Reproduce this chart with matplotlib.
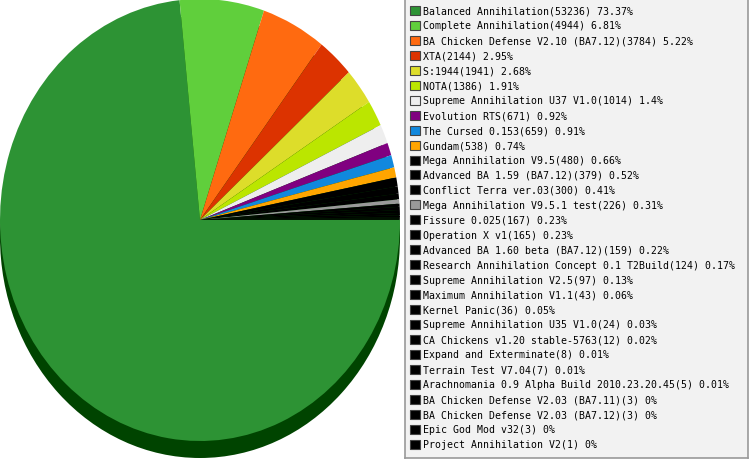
import matplotlib
matplotlib.use("Agg")
import matplotlib.pyplot as plt
from matplotlib.patches import Ellipse, Rectangle

# ── Data ───────────────────────────────────────────────
games = [
    "Balanced Annihilation", "Complete Annihilation", "BA Chicken Defense V2.10 (BA7.12)",
    "XTA", "S:1944", "NOTA", "Supreme Annihilation U37 V1.0", "Evolution RTS",
    "The Cursed 0.153", "Gundam", "Mega Annihilation V9.5", "Advanced BA 1.59 (BA7.12)",
    "Conflict Terra ver.03", "Mega Annihilation V9.5.1 test", "Fissure 0.025",
    "Operation X v1", "Advanced BA 1.60 beta (BA7.12)",
    "Research Annihilation Concept 0.1 T2Build", "Supreme Annihilation V2.5",
    "Maximum Annihilation V1.1", "Kernel Panic", "Supreme Annihilation U35 V1.0",
    "CA Chickens v1.20 stable-5763", "Expand and Exterminate", "Terrain Test V7.04",
    "Arachnomania 0.9 Alpha Build 2010.23.20.45", "BA Chicken Defense V2.03 (BA7.11)",
    "BA Chicken Defense V2.03 (BA7.12)", "Epic God Mod v32", "Project Annihilation V2",
]
counts = [53236, 4944, 3784, 2144, 1941, 1386, 1014, 671, 659, 538, 480, 379, 300,
          226, 167, 165, 159, 124, 97, 43, 36, 24, 12, 8, 7, 5, 3, 3, 3, 1]
percents = ["73.37", "6.81", "5.22", "2.95", "2.68", "1.91", "1.4", "0.92", "0.91",
            "0.74", "0.66", "0.52", "0.41", "0.31", "0.23", "0.23", "0.22", "0.17",
            "0.13", "0.06", "0.05", "0.03", "0.02", "0.01", "0.01", "0.01", "0", "0",
            "0", "0"]
colors = ["#2d9334", "#60cf3c", "#ff6a10", "#dc3300", "#dddd2a", "#bbe600", "#eeeeee",
          "#800080", "#1188dd", "#ffa500", "#000000", "#000000", "#000000", "#999999"] \
         + ["#000000"] * 16
# ───────────────────────────────────────────────────────

W, H = 749, 460
RY = 221  # vertical radius in px (horizontal is 200)

fig = plt.figure(figsize=(W / 100, H / 100), dpi=100)

# pie axes: 400px wide, full height; the pie is drawn as an ellipse
ax = fig.add_axes([0, 0, 400 / W, 1])
shift = 17 / RY
ax.add_patch(Ellipse((0, -shift), 2, 2, facecolor="#004400", edgecolor="none", zorder=0))
ax.pie(counts, colors=colors, startangle=0, counterclock=False, radius=1,
       wedgeprops=dict(linewidth=0, antialiased=True))
ax.set_aspect("auto")
ax.set_xlim(-1, 1)
ax.set_ylim(1 - H / RY, 1)
ax.axis("off")

# legend box
lx0, lx1 = 405, 748
lax = fig.add_axes([lx0 / W, 1 / H, (lx1 - lx0) / W, 1 - 1 / H])
lax.set_xlim(lx0, lx1)
lax.set_ylim(H - 1, 0)
lax.set_xticks([])
lax.set_yticks([])
lax.set_facecolor("#f2f2f2")
for s in lax.spines.values():
    s.set_color("#999999")
    s.set_linewidth(1.2)

for i, (g, c, p, col) in enumerate(zip(games, counts, percents, colors)):
    yc = 11.5 + 14.95 * i
    lax.add_patch(Rectangle((410, yc - 4.5), 10, 9, facecolor=col,
                            edgecolor="#444444", linewidth=0.8))
    lax.text(422.5, yc, f"{g}({c}) {p}%", fontsize=7.15, family="DejaVu Sans Mono",
             va="center", ha="left", color="#000000")

plt.savefig("out.png", dpi=100)
plt.close()
